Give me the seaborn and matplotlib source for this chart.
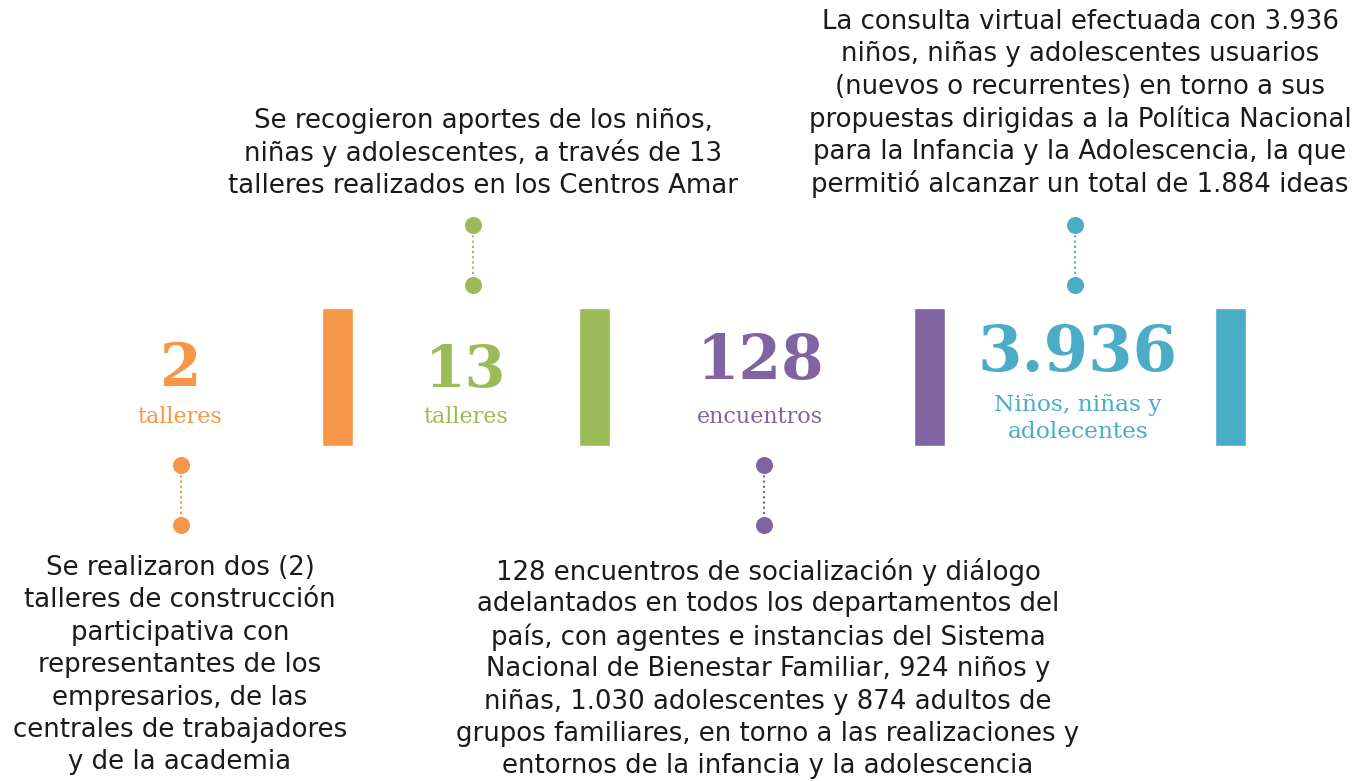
import matplotlib
matplotlib.use("Agg")
import matplotlib.pyplot as plt
import seaborn as sns

# Figures shown in the infographic
values = [2, 13, 128, 3936]
units = ["talleres", "talleres", "encuentros", "Niños, niñas y\nadolecentes"]
colors = ["#F79646", "#9BBB59", "#8064A2", "#4BACC6"]

descriptions = [
    "Se realizaron dos (2)\ntalleres de construcción\nparticipativa con\nrepresentantes de los\nempresarios, de las\ncentrales de trabajadores\ny de la academia",
    "Se recogieron aportes de los niños,\nniñas y adolescentes, a través de 13\ntalleres realizados en los Centros Amar",
    "128 encuentros de socialización y diálogo\nadelantados en todos los departamentos del\npaís, con agentes e instancias del Sistema\nNacional de Bienestar Familiar, 924 niños y\nniñas, 1.030 adolescentes y 874 adultos de\ngrupos familiares, en torno a las realizaciones y\nentornos de la infancia y la adolescencia",
    "La consulta virtual efectuada con 3.936\nniños, niñas y adolescentes usuarios\n(nuevos o recurrentes) en torno a sus\npropuestas dirigidas a la Política Nacional\npara la Infancia y la Adolescencia, la que\npermitió alcanzar un total de 1.884 ideas",
]
# description placed below (True) or above (False) the timeline
below = [True, False, True, False]

# layout (pixel coordinates)
num_x = [180, 466, 760, 1078]
num_y = [369, 371, 362, 354]
num_size = [43, 42, 44, 46]
unit_y = [417, 417, 417, 405]
unit_size = [16, 16, 16, 16.8]
unit_step = 27
bar_x = [337.5, 594, 929, 1230]
conn_x = [181, 473, 764, 1075]
desc_x = [180, 483, 768, 1080]
desc_y0 = [568, 121, 572, 22]
line_step = 32.4

sns.set_theme(style="white")
plt.rcParams["font.family"] = ["DejaVu Sans"]

fig = plt.figure(figsize=(13.71, 7.81), dpi=100)
ax = fig.add_axes([0, 0, 1, 1])
ax.set_xlim(0, 1371)
ax.set_ylim(781, 0)
ax.axis("off")

# coloured separators
ax.bar(bar_x, 138, bottom=308, width=31, color=colors)

for i, v in enumerate(values):
    c = colors[i]
    label = f"{v:,}".replace(",", ".")
    ax.text(num_x[i], num_y[i], label, color=c, fontsize=num_size[i],
            fontweight="bold", family="DejaVu Serif", ha="center", va="center")
    for j, line in enumerate(units[i].split("\n")):
        ax.text(num_x[i], unit_y[i] + j * unit_step, line, color=c,
                fontsize=unit_size[i], family="DejaVu Serif",
                ha="center", va="center")

    # dotted connector with end dots
    ys = (465, 525) if below[i] else (225, 285)
    ax.plot([conn_x[i]] * 2, ys, color=c, lw=1.5, ls=(0, (1, 1.5)))
    ax.scatter([conn_x[i]] * 2, ys, s=150, color=c, zorder=3, linewidths=0)

    for j, line in enumerate(descriptions[i].split("\n")):
        ax.text(desc_x[i], desc_y0[i] + j * line_step, line, color="#1a1a1a",
                fontsize=18.7, ha="center", va="center")

fig.savefig("out.png", dpi=100)
